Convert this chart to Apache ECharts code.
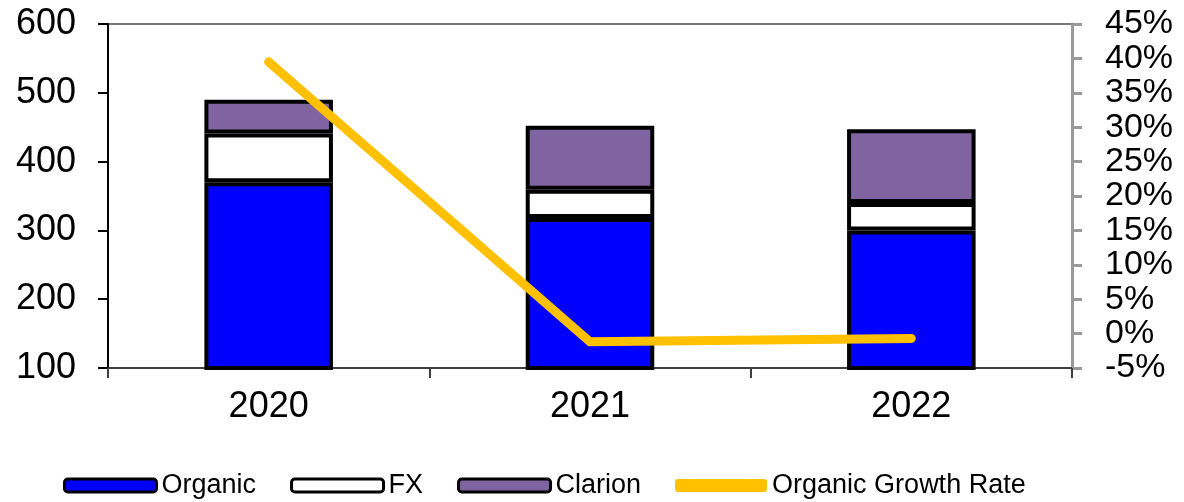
<!DOCTYPE html>
<html>
<head>
<meta charset="utf-8">
<script src="https://cdn.jsdelivr.net/npm/echarts@6/dist/echarts.min.js"></script>
<style>
  html, body { margin: 0; padding: 0; background: #fff; }
  #chart { width: 1184px; height: 502px; }
</style>
</head>
<body>
<div id="chart"></div>
<script>
// Dữ liệu
const years = ['2020', '2021', '2022'];
const organic = [370, 318, 300];
const fx = [71, 41, 40];
const clarion = [49, 93, 107];
const growthRate = [39.5, -1.2, -0.7]; // %

const FONT = "'Liberation Sans', Arial, sans-serif";

var chartDom = document.getElementById('chart');
var myChart = echarts.init(chartDom);

function barSeries(name, data, color) {
    return {
        name: name,
        type: 'bar',
        stack: 'total',
        barWidth: '40%',
        data: data,
        itemStyle: { color: color, borderColor: '#000', borderWidth: 4 }
    };
}

var option = {
    animation: false,
    textStyle: { fontFamily: FONT },
    grid: {
        left: 108, right: 112, top: 24, bottom: 134,
        show: true, borderColor: '#777', borderWidth: 2
    },
    legend: {
        left: 58, top: 467,
        itemWidth: 92, itemHeight: 13, itemGap: 34,
        itemStyle: { borderColor: '#000', borderWidth: 3 },
        textStyle: { fontSize: 27, color: '#000', fontFamily: FONT },
        data: [
            'Organic', 'FX', 'Clarion',
            { name: 'Organic Growth Rate', icon: 'roundRect', itemStyle: { color: '#FFC000', borderWidth: 0 } }
        ]
    },
    xAxis: {
        type: 'category',
        data: years,
        axisLine: { onZero: false, lineStyle: { color: '#404040', width: 2 } },
        axisTick: { show: true, interval: 0, length: 10, lineStyle: { color: '#404040', width: 2 } },
        axisLabel: { fontSize: 36, color: '#000', margin: 21, fontFamily: FONT }
    },
    yAxis: [
        {
            type: 'value',
            min: 100, max: 600, interval: 100,
            axisLine: { show: true, lineStyle: { color: '#000', width: 2 } },
            axisTick: { show: true, length: 10, lineStyle: { color: '#000', width: 2 } },
            axisLabel: { fontSize: 36, color: '#000', margin: 32, fontFamily: FONT },
            splitLine: { show: false }
        },
        {
            type: 'value',
            position: 'right',
            min: -5, max: 45, interval: 5,
            axisLine: { show: true, lineStyle: { color: '#999', width: 3 } },
            axisTick: { show: true, length: 10, lineStyle: { color: '#999', width: 3 } },
            axisLabel: { fontSize: 34, color: '#000', margin: 33, formatter: '{value}%', fontFamily: FONT },
            splitLine: { show: false }
        }
    ],
    series: [
        barSeries('Organic', organic, '#0000FF'),
        barSeries('FX', fx, '#FFFFFF'),
        barSeries('Clarion', clarion, '#8064A2'),
        {
            name: 'Organic Growth Rate',
            type: 'line',
            yAxisIndex: 1,
            data: growthRate,
            showSymbol: false,
            symbol: 'none',
            z: 5,
            itemStyle: { color: '#FFC000' },
            lineStyle: { color: '#FFC000', width: 9, cap: 'round', join: 'miter' }
        }
    ]
};

myChart.setOption(option);
</script>
</body>
</html>
